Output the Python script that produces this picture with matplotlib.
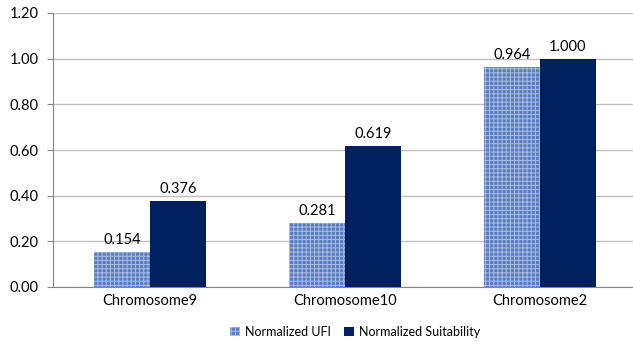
import matplotlib
matplotlib.use("Agg")
import matplotlib.pyplot as plt
import numpy as np

# data
kategoriyalar = ["Chromosome9", "Chromosome10", "Chromosome2"]
ufi = [0.154, 0.281, 0.964]
suitability = [0.376, 0.619, 1.000]
yticks = [0.0, 0.2, 0.4, 0.6, 0.8, 1.0, 1.2]

plt.rcParams['font.family'] = ['Lato', 'DejaVu Sans']
plt.rcParams['hatch.color'] = '#a9bde3'
plt.rcParams['hatch.linewidth'] = 0.7

fig = plt.figure(figsize=(6.33, 3.45), dpi=100)
ax = fig.add_axes([52.5 / 633, 58 / 345, 585 / 633, 274 / 345])

x = np.arange(len(kategoriyalar))
w = 0.287

b1 = ax.bar(x - w / 2, ufi, w, color='#5a7dbf', hatch='++++', linewidth=0,
            label='Normalized UFI', zorder=3)
b2 = ax.bar(x + w / 2, suitability, w, color='#002060', linewidth=0,
            label='Normalized Suitability', zorder=3)

for bars in (b1, b2):
    for r in bars:
        ax.text(r.get_x() + r.get_width() / 2, r.get_height() + 0.022,
                f"{r.get_height():.3f}", ha='center', va='bottom', fontsize=10.5)

ax.set_xlim(-0.5, 2.5)
ax.set_ylim(0, 1.2)
ax.set_yticks(yticks)
ax.set_yticklabels([f"{v:.2f}" for v in yticks], fontsize=10.5)
ax.set_xticks(x)
ax.set_xticklabels(kategoriyalar, fontsize=10.5)
ax.tick_params(axis='x', length=0, pad=5)
ax.tick_params(axis='y', length=4, color='#868686', pad=6)
ax.grid(axis='y', color='#c0c0c0', linewidth=1, zorder=0)

for s in ['top', 'right']:
    ax.spines[s].set_visible(False)
ax.spines['left'].set_color('#868686')
ax.spines['bottom'].set_color('#868686')

ax.legend(loc='upper center', bbox_to_anchor=(0.517, -0.1), ncol=2, frameon=False,
          fontsize=9, handlelength=0.8, handleheight=0.8, columnspacing=1.0,
          handletextpad=0.4)

fig.savefig("out.png", dpi=100)
